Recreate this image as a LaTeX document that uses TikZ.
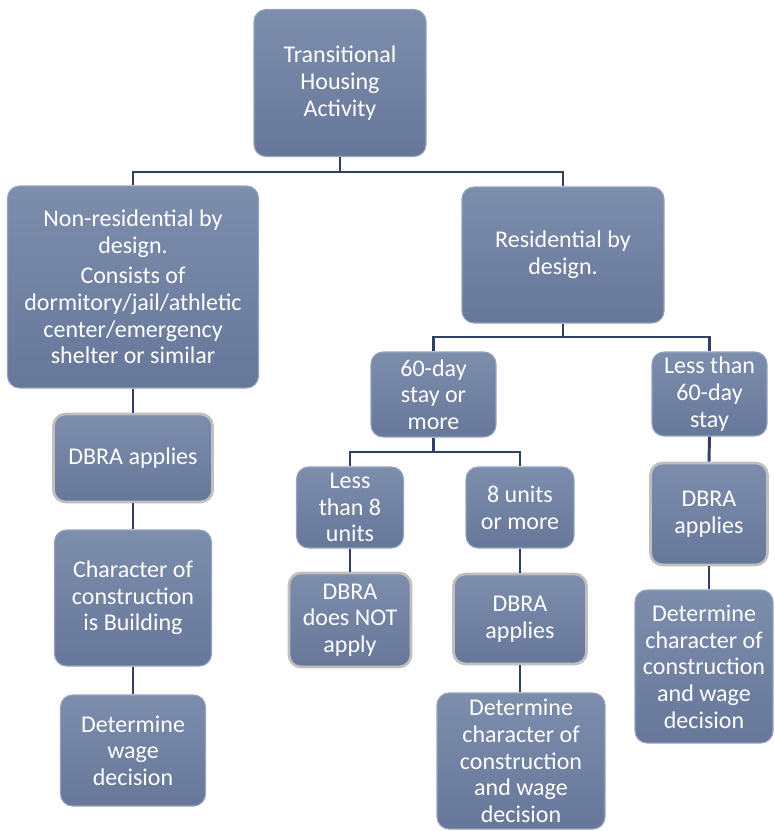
\documentclass[tikz,border=0pt]{standalone}
\usepackage{fontspec}
\setmainfont{Carlito}
\definecolor{boxtop}{HTML}{7D8DAC}
\definecolor{boxbot}{HTML}{67779A}
\definecolor{boxedge}{HTML}{95A3C0}
\definecolor{linkcol}{HTML}{2F4062}
\tikzset{
  box/.style 2 args={rectangle, rounded corners=9pt, align=center,
    minimum width=#1*0.75pt, minimum height=#2*0.75pt, inner sep=0pt,
    top color=boxtop, bottom color=boxbot, draw=boxedge, line width=0.8pt,
    text=white, font=\fontsize{18}{20}\selectfont},
  graybox/.style={draw=gray!50, line width=2pt},
  link/.style={draw=linkcol, line width=2.2pt}
}
\begin{document}
\begin{tikzpicture}[x=0.75pt, y=-0.75pt]

    \useasboundingbox (0,0) rectangle (774,831);

    % =================================================================
    % TOP LEVEL
    % =================================================================
    \node[box={172}{147}] (top) at (340,83) {Transitional\\Housing\\Activity};

    % =================================================================
    % LEFT BRANCH: NON-RESIDENTIAL
    % =================================================================
    \node[box={251}{202}] (nonres) at (133,287)
        {Non-residential by\\design.\\[3pt]Consists of\\dormitory/jail/athletic\\center/emergency\\shelter or similar};
    \node[box={159}{88}, graybox] (dbraA) at (133,458) {DBRA applies};
    \node[box={157}{136}] (charA) at (133,598) {Character of\\construction\\is Building};
    \node[box={145}{111}] (wageA) at (133,750.5) {Determine\\wage\\decision};

    % =================================================================
    % RIGHT BRANCH: RESIDENTIAL
    % =================================================================
    \node[box={202}{136}] (res) at (563,255) {Residential by\\design.};
    \node[box={125}{85}] (sixty) at (433.5,394.5) {60-day\\stay or\\more};
    \node[box={115}{84}] (lesssixty) at (709.5,394) {Less than\\60-day\\stay};

    % 60-day stay or more
    \node[box={107}{81}] (lesseight) at (350,507.5) {Less\\than 8\\units};
    \node[box={108}{81}] (eight) at (520,507.5) {8 units\\or more};
    \node[box={122}{94}, graybox] (dbraNot) at (350,620) {DBRA\\does NOT\\apply};
    \node[box={133}{90}, graybox] (dbraB) at (520,619) {DBRA\\applies};
    \node[box={168}{136}] (detB) at (521,761) {Determine\\character of\\construction\\and wage\\decision};

    % Less than 60-day stay
    \node[box={117}{102}, graybox] (dbraC) at (709,514) {DBRA\\applies};
    \node[box={138}{153}] (detC) at (704,666.5) {Determine\\character of\\construction\\and wage\\decision};

    % =================================================================
    % CONNECTORS
    % =================================================================
    \coordinate (jTop) at (340,172);
    \coordinate (jRes) at (563,337);
    \coordinate (jSixty) at (433.5,452);

    \draw[link] (top.south) -- (jTop);
    \draw[link] (nonres.north) |- (jTop) -| (res.north);

    \draw[link] (res.south) -- (jRes);
    \draw[link] (sixty.north) |- (jRes) -| (lesssixty.north);

    \draw[link] (sixty.south) -- (jSixty);
    \draw[link] (lesseight.north) |- (jSixty) -| (eight.north);

    % straight drops
    \draw[link] (nonres.south) -- (dbraA.north);
    \draw[link] (dbraA.south) -- (charA.north);
    \draw[link] (charA.south) -- (wageA.north);
    \draw[link] (lesseight.south) -- (dbraNot.north);
    \draw[link] (eight.south) -- (dbraB.north);
    \draw[link] (dbraB.south) -- (dbraB.south |- detB.north);
    \draw[link] (lesssixty.south) -- (dbraC.north);
    \draw[link] (dbraC.south) -- (dbraC.south |- detC.north);

\end{tikzpicture}
\end{document}
